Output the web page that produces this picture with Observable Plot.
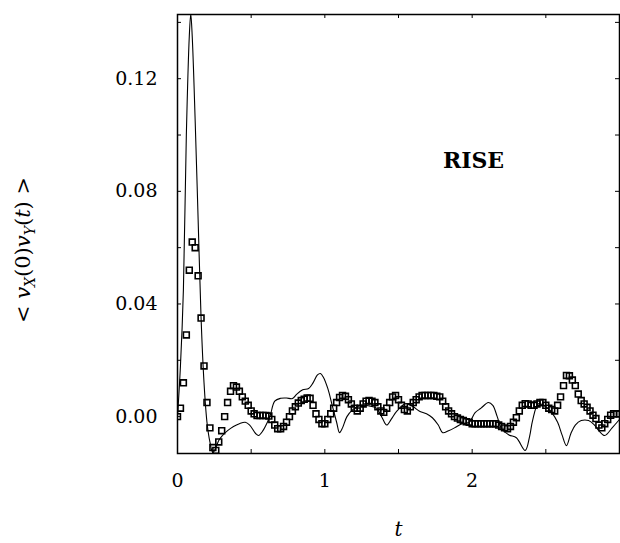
<!DOCTYPE html>
<html><head><meta charset="utf-8">
<script src="https://cdn.jsdelivr.net/npm/d3@7"></script>
<script src="https://cdn.jsdelivr.net/npm/@observablehq/plot@0.6"></script>
<style>body{margin:0;background:#fff}</style>
</head><body><div id="chart"></div>
<script>
const squareT = [0,0.02,0.04,0.06,0.08,0.10,0.12,0.14,0.16,0.18,0.20,0.22,0.24,0.26,0.28,0.30,0.32,0.34,0.36,0.38,
0.40,0.42,0.44,0.46,0.48,0.50,0.52,0.54,0.56,0.58,0.60,0.62,0.64,0.66,0.68,0.70,0.72,0.74,0.76,0.78,
0.80,0.82,0.84,0.86,0.88,0.90,0.92,0.94,0.96,0.98,1.00,1.02,1.04,1.06,1.08,1.10,1.12,1.14,1.16,1.18,
1.20,1.22,1.24,1.26,1.28,1.30,1.32,1.34,1.36,1.38,1.40,1.42,1.44,1.46,1.48,1.50,1.52,1.54,1.56,1.58,
1.60,1.62,1.64,1.66,1.68,1.70,1.72,1.74,1.76,1.78,1.80,1.82,1.84,1.86,1.88,1.90,1.92,1.94,1.96,1.98,
2.00,2.02,2.04,2.06,2.08,2.10,2.12,2.14,2.16,2.18,2.20,2.22,2.24,2.26,2.28,2.30,2.32,2.34,2.36,2.38,
2.40,2.42,2.44,2.46,2.48,2.50,2.52,2.54,2.56,2.58,2.60,2.62,2.64,2.66,2.68,2.70,2.72,2.74,2.76,2.78,
2.80,2.82,2.84,2.86,2.88,2.90,2.92,2.94,2.96,2.98,3.00];
const squareV = [0,0.003,0.012,0.029,0.052,0.062,0.060,0.050,0.035,0.018,0.005,-0.004,-0.011,-0.012,-0.009,-0.005,0.000,0.005,0.009,0.011,
0.0105,0.009,0.007,0.0055,0.004,0.002,0.001,0.0004,0.0004,0.0004,0.0004,0.0002,-0.001,-0.003,-0.0043,-0.0043,-0.0035,-0.002,0.000,0.002,
0.0035,0.0048,0.0057,0.0062,0.0066,0.0065,0.004,0.001,-0.001,-0.0025,-0.0025,-0.001,0.001,0.003,0.005,0.0068,0.0075,0.0072,0.006,0.0045,
0.003,0.002,0.003,0.0045,0.0055,0.0057,0.0055,0.005,0.0035,0.002,0.0015,0.003,0.005,0.007,0.0075,0.006,0.004,0.0025,0.002,0.0035,
0.005,0.006,0.007,0.0075,0.0075,0.0075,0.0075,0.0075,0.0072,0.007,0.0055,0.0035,0.002,0.001,0.000,-0.0005,-0.001,-0.0014,-0.0018,-0.002,
-0.0025,-0.0025,-0.0025,-0.0025,-0.0025,-0.0025,-0.0025,-0.0025,-0.0025,-0.003,-0.0035,-0.004,-0.0043,-0.0035,-0.002,-0.0004,0.002,0.004,0.0046,0.0045,
0.004,0.004,0.0045,0.005,0.005,0.004,0.003,0.0025,0.002,0.004,0.007,0.011,0.0146,0.0145,0.013,0.011,0.008,0.0057,0.0045,0.0033,
0.002,0.0005,-0.0007,-0.003,-0.004,-0.0025,-0.001,0.0005,0.001,0.001,0.001];

const lineT = [0,0.02,0.04,0.06,0.08,0.09,0.10,0.12,0.14,0.16,0.18,0.20,0.22,0.24,0.26,0.28,0.30,0.34,0.38,0.42,
0.46,0.49,0.53,0.55,0.58,0.61,0.63,0.66,0.70,0.74,0.78,0.81,0.85,0.89,0.92,0.95,0.97,0.99,1.02,1.05,
1.08,1.10,1.12,1.15,1.19,1.24,1.30,1.35,1.39,1.42,1.45,1.49,1.55,1.60,1.64,1.69,1.73,1.77,1.80,1.84,
1.88,1.93,1.98,2.02,2.06,2.11,2.14,2.17,2.20,2.25,2.30,2.36,2.39,2.41,2.45,2.50,2.54,2.58,2.61,2.64,
2.67,2.70,2.74,2.79,2.83,2.86,2.90,2.95,3.00];
const lineV = [0,0.018,0.045,0.100,0.135,0.143,0.135,0.105,0.070,0.035,0.012,-0.002,-0.009,-0.0128,-0.011,-0.0085,-0.007,-0.005,-0.0035,-0.0025,
-0.002,-0.003,-0.006,-0.0067,-0.005,-0.002,0.0005,0.0055,0.0065,0.0066,0.0064,0.008,0.0095,0.010,0.012,0.0148,0.0153,0.014,0.010,0.004,
-0.002,-0.0057,-0.004,0.000,0.0025,0.004,0.0038,0.003,-0.0005,-0.003,-0.001,0.002,0.0046,0.0035,0.002,0.001,-0.0004,-0.003,-0.0057,-0.005,
-0.004,-0.0025,-0.002,0.0014,0.003,0.005,0.004,0.000,-0.0043,-0.0065,-0.0075,-0.012,-0.007,-0.0014,0.0046,0.0035,0.0014,-0.002,-0.0065,-0.0103,
-0.006,-0.003,-0.0014,-0.0014,-0.003,-0.005,-0.0067,-0.004,-0.001];

const xTickLabels = [0, 1, 2];
const yTickLabels = [0, 0.04, 0.08, 0.12];
const xMinorTicks = [0.5, 1, 1.5, 2, 2.5];
const yMinorTicks = [0, 0.02, 0.04, 0.06, 0.08, 0.10, 0.12, 0.14];
const annotation = ["RISE"];
const xLabel = ["t"];
const yLabel = ["YLABEL_PLACEHOLDER"];

const sq = squareT.map((t, i) => ({t, v: squareV[i]}));
const ln = lineT.map((t, i) => ({t, v: lineV[i]}));

const chart = Plot.plot({
  width: 620, height: 543,
  marginLeft: 177, marginRight: 1, marginTop: 14, marginBottom: 90,
  x: {domain: [0, 3]},
  y: {domain: [-0.0131, 0.1428]},
  style: {fontFamily: "DejaVu Serif", fontSize: "19px", color: "black", background: "white"},
  marks: [
    Plot.line(ln, {x: "t", y: "v", stroke: "black", strokeWidth: 1.1, curve: "catmull-rom", clip: true}),
    Plot.dot(sq, {x: "t", y: "v", symbol: "square", r: 3.3, stroke: "black", fill: "none", strokeWidth: 1.6, clip: true}),
    Plot.tickX(xMinorTicks, {x: d => d, insetTop: 435, stroke: "black"}),
    Plot.tickX(xMinorTicks, {x: d => d, insetBottom: 435, stroke: "black"}),
    Plot.tickY(yMinorTicks, {y: d => d, insetRight: 438, stroke: "black"}),
    Plot.tickY(yMinorTicks, {y: d => d, insetLeft: 438, stroke: "black"}),
    Plot.axisX(xTickLabels, {tickSize: 0, tickPadding: 20, label: null, tickFormat: d => String(d)}),
    Plot.axisY(yTickLabels, {tickSize: 0, tickPadding: 20, label: null, tickFormat: d3.format(".2f")}),
    Plot.frame({stroke: "black", strokeWidth: 1.5}),
    Plot.text(annotation, {frameAnchor: "top-left", dx: 296, dy: 138, fontWeight: "bold", fontSize: 22, textAnchor: "middle"}),
    Plot.text(xLabel, {frameAnchor: "bottom", dy: 82, fontStyle: "italic", fontSize: 20}),
    Plot.text(yLabel, {frameAnchor: "left", dx: -154, dy: 16, rotate: -90, fontSize: 21, textAnchor: "middle"})
  ]
});
document.getElementById("chart").appendChild(chart);

// Rich text for the y-axis label: < v_X(0) v_Y(t) >
const NS = "http://www.w3.org/2000/svg";
for (const el of chart.querySelectorAll("text")) {
  if (el.textContent === "YLABEL_PLACEHOLDER") {
    el.textContent = "";
    const parts = [
      ["<\u00a0", null, 0], ["v", "italic", 0], ["X", "italic", 5], ["(0)", null, -5],
      ["v", "italic", 0], ["Y", "italic", 5], ["(", null, -5], ["t", "italic", 0], [")\u00a0>", null, 0]
    ];
    for (const [txt, style, dy] of parts) {
      const ts = document.createElementNS(NS, "tspan");
      ts.textContent = txt;
      if (style) ts.setAttribute("font-style", style);
      if (dy) ts.setAttribute("dy", dy);
      if (dy > 0) ts.setAttribute("font-size", "14");
      el.appendChild(ts);
    }
  }
}
</script>
</body></html>
